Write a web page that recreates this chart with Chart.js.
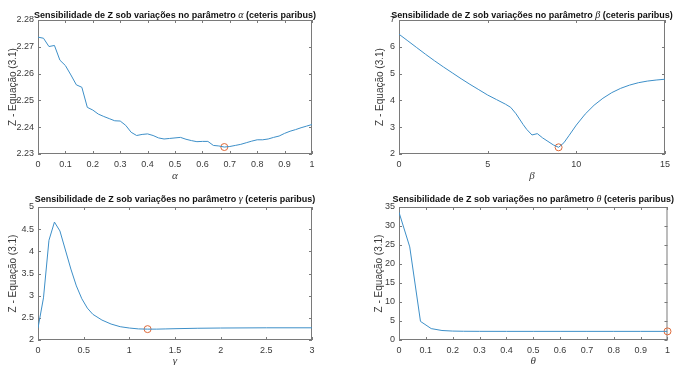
<!DOCTYPE html>
<html>
<head>
<meta charset="utf-8">
<script src="https://cdn.jsdelivr.net/npm/chart.js@4.4.1/dist/chart.umd.min.js"></script>
<style>
  body { margin: 0; background: #fff; }
  #fig { position: relative; width: 675px; height: 365px; background: #fff; }
  #fig canvas { position: absolute; left: 0; top: 0; }
</style>
</head>
<body>
<div id="fig">
  <canvas id="gAlpha" width="675" height="365"></canvas>
  <canvas id="gBeta" width="675" height="365"></canvas>
  <canvas id="gGamma" width="675" height="365"></canvas>
  <canvas id="gTheta" width="675" height="365"></canvas>
</div>
<script>
// sensibilidade de Z para cada parametro
var alphaX = [0, 0.02, 0.04, 0.06, 0.08, 0.1, 0.12, 0.14, 0.16, 0.18, 0.2, 0.22, 0.24, 0.26, 0.28, 0.3,
  0.32, 0.34, 0.36, 0.38, 0.4, 0.42, 0.44, 0.46, 0.48, 0.5, 0.52, 0.54, 0.56, 0.58, 0.6, 0.62, 0.64,
  0.66, 0.68, 0.7, 0.72, 0.74, 0.76, 0.78, 0.8, 0.82, 0.84, 0.86, 0.88, 0.9, 0.92, 0.94, 0.96, 0.98, 1];
var alphaZ = [2.2736, 2.2732, 2.2701, 2.2705, 2.2650, 2.2630, 2.2595, 2.2558, 2.2549, 2.2474, 2.2464,
  2.2449, 2.2440, 2.2432, 2.2424, 2.2423, 2.2407, 2.2381, 2.2369, 2.2373, 2.2375, 2.2369, 2.2360,
  2.2356, 2.2358, 2.2360, 2.2362, 2.2355, 2.2350, 2.2346, 2.2347, 2.2347, 2.2332, 2.2330, 2.2326,
  2.2328, 2.2332, 2.2336, 2.2342, 2.2348, 2.2353, 2.2353, 2.2356, 2.2362, 2.2367, 2.2377, 2.2385,
  2.2391, 2.2398, 2.2404, 2.2410];
var alphaMin = [0.68, 2.2326];

var betaX = [0, 0.5, 1, 1.5, 2, 2.5, 3, 3.5, 4, 4.5, 5, 5.5, 6, 6.3, 6.6, 7, 7.2, 7.5, 7.8, 8.1, 8.4,
  8.7, 9, 9.3, 9.6, 10, 10.5, 11, 11.5, 12, 12.5, 13, 13.5, 14, 14.5, 15];
var betaZ = [6.47, 6.22, 5.97, 5.72, 5.48, 5.25, 5.03, 4.81, 4.60, 4.40, 4.20, 4.03, 3.86, 3.74, 3.50,
  3.10, 2.92, 2.71, 2.76, 2.60, 2.47, 2.34, 2.25, 2.42, 2.70, 3.08, 3.49, 3.82, 4.08, 4.29, 4.45,
  4.57, 4.66, 4.72, 4.76, 4.79];
var betaMin = [9, 2.25];

var gammaX = [0, 0.06, 0.12, 0.18, 0.24, 0.3, 0.36, 0.42, 0.48, 0.54, 0.6, 0.7, 0.8, 0.9, 1, 1.1, 1.2,
  1.3, 1.4, 1.5, 1.75, 2, 2.5, 3];
var gammaZ = [2.27, 2.95, 4.25, 4.66, 4.46, 4.03, 3.60, 3.22, 2.93, 2.72, 2.58, 2.45, 2.36, 2.30, 2.27,
  2.25, 2.245, 2.245, 2.25, 2.255, 2.265, 2.27, 2.275, 2.275];
var gammaMin = [1.2, 2.245];

var thetaX = [0, 0.04, 0.08, 0.12, 0.16, 0.2, 0.24, 0.3, 0.4, 0.5, 0.6, 0.7, 0.8, 0.9, 1];
var thetaZ = [33.6, 24.5, 4.9, 3.0, 2.5, 2.35, 2.3, 2.28, 2.27, 2.27, 2.27, 2.27, 2.27, 2.27, 2.27];
var thetaMin = [1, 2.27];

// ticks dos eixos
var alphaTicksX = [0, 0.1, 0.2, 0.3, 0.4, 0.5, 0.6, 0.7, 0.8, 0.9, 1];
var alphaTicksY = [2.23, 2.24, 2.25, 2.26, 2.27, 2.28];
var betaTicksX = [0, 5, 10, 15];
var betaTicksY = [2, 3, 4, 5, 6, 7];
var gammaTicksX = [0, 0.5, 1, 1.5, 2, 2.5, 3];
var gammaTicksY = [2, 2.5, 3, 3.5, 4, 4.5, 5];
var thetaTicksX = [0, 0.1, 0.2, 0.3, 0.4, 0.5, 0.6, 0.7, 0.8, 0.9, 1];
var thetaTicksY = [0, 5, 10, 15, 20, 25, 30, 35];

var tituloAntes = 'Sensibilidade de Z sob variações no parâmetro ';
var tituloDepois = ' (ceteris paribus)';
var rotuloY = 'Z - Equação (3.1)';

var SANS = "'Liberation Sans', Arial, sans-serif";
var SERIF = "'Liberation Serif', 'Times New Roman', serif";
var corTexto = '#3a3a3a';
var corEixo = '#7a7a7a';

function fmt(v) {
  return String(+v.toFixed(3));
}

// caixa, ticks para dentro e textos (estilo matlab)
var molduraPlugin = {
  id: 'moldura',
  beforeDatasetsDraw: function (chart) {
    var ctx = chart.ctx, a = chart.chartArea;
    var sx = chart.scales.x, sy = chart.scales.y;
    var tam = 3;
    ctx.save();
    ctx.strokeStyle = corEixo;
    ctx.lineWidth = 1;
    ctx.beginPath();
    sx.ticks.forEach(function (t) {
      var px = Math.round(sx.getPixelForValue(t.value)) + 0.5;
      ctx.moveTo(px, a.bottom); ctx.lineTo(px, a.bottom - tam);
      ctx.moveTo(px, a.top); ctx.lineTo(px, a.top + tam);
    });
    sy.ticks.forEach(function (t) {
      var py = Math.round(sy.getPixelForValue(t.value)) + 0.5;
      ctx.moveTo(a.left, py); ctx.lineTo(a.left + tam, py);
      ctx.moveTo(a.right, py); ctx.lineTo(a.right - tam, py);
    });
    ctx.stroke();
    ctx.strokeRect(a.left + 0.5, a.top + 0.5, a.right - a.left - 1, a.bottom - a.top - 1);
    ctx.restore();
  },
  afterDraw: function (chart) {
    var ctx = chart.ctx, a = chart.chartArea;
    var op = chart.options.plugins.moldura;
    var cx = (a.left + a.right) / 2;
    ctx.save();
    // titulo em tres partes, a letra grega em italico
    var fB = 'bold 9px ' + SANS, fG = 'italic 10px ' + SERIF;
    ctx.font = fB;
    var w1 = ctx.measureText(tituloAntes).width, w3 = ctx.measureText(tituloDepois).width;
    ctx.font = fG;
    var w2 = ctx.measureText(op.grego).width;
    var x0 = cx - (w1 + w2 + w3) / 2;
    ctx.fillStyle = '#111';
    ctx.textBaseline = 'alphabetic';
    ctx.textAlign = 'left';
    ctx.font = fB;
    ctx.fillText(tituloAntes, x0, op.tituloY);
    ctx.font = fG;
    ctx.fillText(op.grego, x0 + w1, op.tituloY);
    ctx.font = fB;
    ctx.fillText(tituloDepois, x0 + w1 + w2, op.tituloY);

    // rotulo do eixo x
    ctx.fillStyle = corTexto;
    ctx.textAlign = 'center';
    ctx.textBaseline = 'middle';
    ctx.font = 'italic 11px ' + SERIF;
    ctx.fillText(op.grego, cx, op.rotuloXY);

    // rotulo do eixo y
    ctx.translate(op.rotuloYX, (a.top + a.bottom) / 2);
    ctx.rotate(-Math.PI / 2);
    ctx.font = '10px ' + SANS;
    ctx.fillText(rotuloY, 0, 0);
    ctx.restore();
  }
};

function grafico(id, xs, ys, minimo, ticksX, ticksY, caixa, textos) {
  var pontos = xs.map(function (x, i) { return { x: x, y: ys[i] }; });
  var larguraY = 30, alturaX = 20;
  return new Chart(document.getElementById(id), {
    type: 'line',
    data: {
      datasets: [
        {
          data: pontos,
          borderColor: '#3d8fc8',
          borderWidth: 1,
          pointRadius: 0,
          tension: 0,
          fill: false
        },
        {
          data: [{ x: minimo[0], y: minimo[1] }],
          showLine: false,
          pointRadius: 3.5,
          pointBorderWidth: 1,
          pointBorderColor: '#dd6a3a',
          pointBackgroundColor: 'rgba(0,0,0,0)',
          clip: false
        }
      ]
    },
    options: {
      responsive: false,
      animation: false,
      devicePixelRatio: 1,
      events: [],
      layout: {
        autoPadding: false,
        padding: {
          left: caixa[0] - larguraY,
          top: caixa[1],
          right: 675 - caixa[2],
          bottom: 365 - caixa[3] - alturaX
        }
      },
      plugins: {
        legend: { display: false },
        title: { display: false },
        tooltip: { enabled: false },
        moldura: textos
      },
      scales: {
        x: {
          type: 'linear',
          min: ticksX[0],
          max: ticksX[ticksX.length - 1],
          grid: { display: false, drawTicks: false },
          border: { display: false },
          afterBuildTicks: function (s) {
            s.ticks = ticksX.map(function (v) { return { value: v }; });
          },
          afterFit: function (s) { s.height = alturaX; },
          ticks: {
            autoSkip: false,
            maxRotation: 0,
            padding: 5,
            color: corTexto,
            font: { family: SANS, size: 9 },
            callback: fmt
          }
        },
        y: {
          type: 'linear',
          min: ticksY[0],
          max: ticksY[ticksY.length - 1],
          grid: { display: false, drawTicks: false },
          border: { display: false },
          afterBuildTicks: function (s) {
            s.ticks = ticksY.map(function (v) { return { value: v }; });
          },
          afterFit: function (s) { s.width = larguraY; },
          ticks: {
            padding: 4,
            color: corTexto,
            font: { family: SANS, size: 9 },
            callback: fmt
          }
        }
      }
    },
    plugins: [molduraPlugin]
  });
}

grafico('gAlpha', alphaX, alphaZ, alphaMin, alphaTicksX, alphaTicksY,
  [38, 20, 312, 154], { grego: 'α', tituloY: 18, rotuloXY: 176, rotuloYX: 13 });
grafico('gBeta', betaX, betaZ, betaMin, betaTicksX, betaTicksY,
  [399, 20, 670, 154], { grego: 'β', tituloY: 18, rotuloXY: 176, rotuloYX: 380 });
grafico('gGamma', gammaX, gammaZ, gammaMin, gammaTicksX, gammaTicksY,
  [38, 207, 312, 340], { grego: 'γ', tituloY: 202, rotuloXY: 361, rotuloYX: 13 });
grafico('gTheta', thetaX, thetaZ, thetaMin, thetaTicksX, thetaTicksY,
  [399, 207, 670, 340], { grego: 'θ', tituloY: 202, rotuloXY: 361, rotuloYX: 379 });
</script>
</body>
</html>
